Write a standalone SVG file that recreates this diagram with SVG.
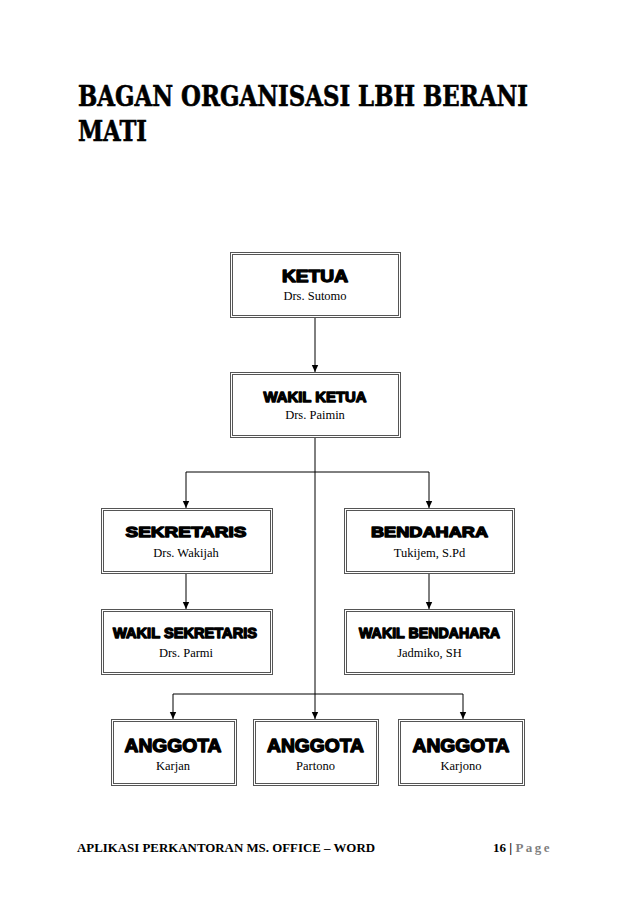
<svg xmlns="http://www.w3.org/2000/svg" width="638" height="903" viewBox="0 0 638 903">
<style>
.title{font-family:"DejaVu Serif",serif;font-weight:bold;font-size:27px;fill:#000;stroke:#000;stroke-width:0.6}
.lbl{font-family:"Liberation Sans","Arial",sans-serif;font-weight:bold;fill:#000;stroke:#000;stroke-width:1.3;stroke-linejoin:round;text-anchor:middle}
.sub{font-family:"Liberation Serif","Times New Roman",serif;font-size:12.5px;fill:#000;text-anchor:middle}
.box{fill:#fff;stroke:#555;stroke-width:1}
.inner{fill:none;stroke:#555;stroke-width:1}
.con{fill:none;stroke:#000;stroke-width:1}
.foot{font-family:"Liberation Serif","Times New Roman",serif;font-weight:bold;font-size:13px;fill:#000}
</style>
<defs>
<marker id="arr" markerUnits="userSpaceOnUse" markerWidth="8" markerHeight="8" refX="7" refY="4" orient="auto">
<path d="M0,0.8 L7,4 L0,7.2 Z" fill="#000"/>
</marker>
</defs>
<rect width="638" height="903" fill="#fff"/>
<text class="title" x="78" y="106" textLength="450" lengthAdjust="spacingAndGlyphs">BAGAN ORGANISASI LBH BERANI</text>
<text class="title" x="78" y="141" textLength="69" lengthAdjust="spacingAndGlyphs">MATI</text>

<g id="connectors">
<line class="con" x1="315" y1="317" x2="315" y2="372" marker-end="url(#arr)"/>
<line class="con" x1="315" y1="437" x2="315" y2="719" stroke-width="1.6" marker-end="url(#arr)"/>
<polyline class="con" points="186,472 429,472"/>
<line class="con" x1="186" y1="472" x2="186" y2="508" marker-end="url(#arr)"/>
<line class="con" x1="429" y1="472" x2="429" y2="508" marker-end="url(#arr)"/>
<line class="con" x1="186" y1="573" x2="186" y2="609" marker-end="url(#arr)"/>
<line class="con" x1="429" y1="574" x2="429" y2="609" marker-end="url(#arr)"/>
<polyline class="con" points="173,694 463,694"/>
<line class="con" x1="173" y1="694" x2="173" y2="719" marker-end="url(#arr)"/>
<line class="con" x1="463" y1="694" x2="463" y2="719" marker-end="url(#arr)"/>
</g>

<g id="ketua">
<rect class="box" x="230.5" y="252.5" width="170" height="65"/>
<rect class="inner" x="232.5" y="254.5" width="166" height="61"/>
<text class="lbl" x="315" y="282" font-size="16" textLength="66" lengthAdjust="spacingAndGlyphs">KETUA</text>
<text class="sub" x="315" y="300">Drs. Sutomo</text>
</g>
<g id="wakil-ketua">
<rect class="box" x="230.5" y="372.5" width="170" height="65"/>
<rect class="inner" x="232.5" y="374.5" width="166" height="61"/>
<text class="lbl" x="315" y="402" font-size="15" textLength="103" lengthAdjust="spacingAndGlyphs">WAKIL KETUA</text>
<text class="sub" x="315" y="419">Drs. Paimin</text>
</g>
<g id="sekretaris">
<rect class="box" x="101.5" y="508.5" width="171" height="65"/>
<rect class="inner" x="103.5" y="510.5" width="167" height="61"/>
<text class="lbl" x="186" y="537" font-size="15" textLength="121" lengthAdjust="spacingAndGlyphs">SEKRETARIS</text>
<text class="sub" x="186" y="557">Drs. Wakijah</text>
</g>
<g id="bendahara">
<rect class="box" x="344.5" y="508.5" width="170" height="65"/>
<rect class="inner" x="346.5" y="510.5" width="166" height="61"/>
<text class="lbl" x="429.5" y="537" font-size="15" textLength="117" lengthAdjust="spacingAndGlyphs">BENDAHARA</text>
<text class="sub" x="429.5" y="557">Tukijem,  S.Pd</text>
</g>
<g id="wakil-sekretaris">
<rect class="box" x="101.5" y="609.5" width="171" height="65"/>
<rect class="inner" x="103.5" y="611.5" width="167" height="61"/>
<text class="lbl" x="185" y="638" font-size="14" textLength="144" lengthAdjust="spacingAndGlyphs">WAKIL SEKRETARIS</text>
<text class="sub" x="186" y="657">Drs. Parmi</text>
</g>
<g id="wakil-bendahara">
<rect class="box" x="344.5" y="609.5" width="170" height="65"/>
<rect class="inner" x="346.5" y="611.5" width="166" height="61"/>
<text class="lbl" x="429.5" y="638" font-size="14" textLength="141" lengthAdjust="spacingAndGlyphs">WAKIL BENDAHARA</text>
<text class="sub" x="429.5" y="657">Jadmiko,  SH</text>
</g>
<g id="anggota-1">
<rect class="box" x="111.5" y="719.5" width="125" height="66"/>
<rect class="inner" x="113.5" y="721.5" width="121" height="62"/>
<text class="lbl" x="173" y="752" font-size="18" textLength="97" lengthAdjust="spacingAndGlyphs">ANGGOTA</text>
<text class="sub" x="173" y="770">Karjan</text>
</g>
<g id="anggota-2">
<rect class="box" x="253.5" y="719.5" width="125" height="66"/>
<rect class="inner" x="255.5" y="721.5" width="121" height="62"/>
<text class="lbl" x="315.5" y="752" font-size="18" textLength="97" lengthAdjust="spacingAndGlyphs">ANGGOTA</text>
<text class="sub" x="315.5" y="770">Partono</text>
</g>
<g id="anggota-3">
<rect class="box" x="398.5" y="719.5" width="126" height="66"/>
<rect class="inner" x="400.5" y="721.5" width="122" height="62"/>
<text class="lbl" x="461" y="752" font-size="18" textLength="97" lengthAdjust="spacingAndGlyphs">ANGGOTA</text>
<text class="sub" x="461" y="770">Karjono</text>
</g>

<text class="foot" x="77" y="852" textLength="298" lengthAdjust="spacingAndGlyphs">APLIKASI PERKANTORAN MS. OFFICE – WORD</text>
<text class="foot" x="493" y="852">16 | <tspan fill="#7f7f7f" letter-spacing="2.5">Page</tspan></text>
</svg>
